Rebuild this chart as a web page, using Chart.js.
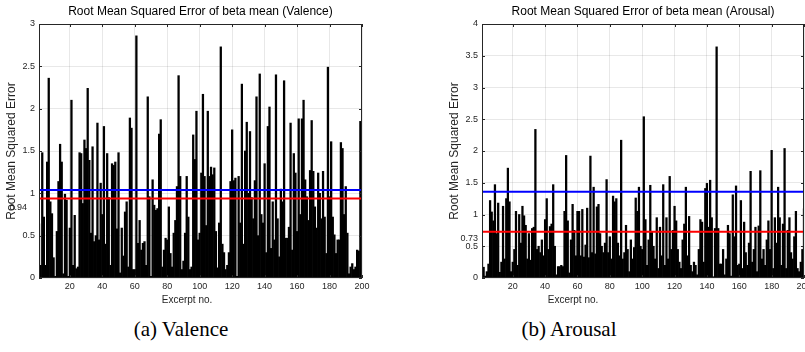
<!DOCTYPE html>
<html>
<head>
<meta charset="utf-8">
<script src="https://cdn.jsdelivr.net/npm/chart.js@4"></script>
<style>
body { margin: 0; width: 805px; height: 352px; overflow: hidden; background: #fff; position: relative; }
canvas { position: absolute; top: 0; }
#chart_valence { left: 0; }
#chart_arousal { left: 400px; }
.caption { position: absolute; top: 319px; line-height: 20px; font-family: "Liberation Serif", serif; font-size: 21px; color: #000; transform: translateX(-50%); white-space: nowrap; }
</style>
</head>
<body>
<canvas id="chart_valence" width="400" height="310"></canvas>
<canvas id="chart_arousal" width="445" height="310"></canvas>
<div class="caption" style="left:181px">(a) Valence</div>
<div class="caption" style="left:569px">(b) Arousal</div>
<script>
// values, excerpt 1..200
const VALENCE_RMSE = [
	0.64, 0.15, 1.48, 0.72, 0.15, 1.37, 2.36, 0.90, 0.76, 0.24,
	0.02, 0.55, 1.14, 1.58, 1.37, 0.05, 0.99, 0.92, 0.02, 0.59,
	2.10, 0.15, 0.74, 0.11, 0.13, 1.48, 1.47, 0.88, 1.63, 1.53,
	2.24, 1.39, 0.53, 1.55, 0.43, 0.50, 1.83, 0.45, 1.12, 0.75,
	1.79, 0.40, 1.47, 0.95, 0.15, 1.35, 1.33, 1.37, 0.58, 1.48,
	0.06, 0.59, 0.26, 0.78, 0.90, 0.13, 1.89, 1.77, 0.10, 0.10,
	2.86, 0.41, 0.68, 0.33, 0.41, 0.43, 0.15, 2.14, 0.96, 0.02,
	1.16, 0.86, 0.80, 0.82, 1.70, 1.87, 0.13, 0.33, 0.47, 0.45,
	0.84, 0.29, 0.13, 0.53, 0.68, 1.08, 2.39, 1.20, 0.10, 0.20,
	0.53, 1.20, 0.72, 0.10, 0.13, 1.69, 1.40, 1.97, 0.45, 0.53,
	1.24, 2.17, 1.20, 0.62, 1.97, 1.20, 1.31, 1.22, 1.30, 0.55,
	0.12, 0.65, 2.73, 0.40, 0.30, 0.10, 0.15, 0.30, 1.14, 1.75,
	1.15, 1.18, 0.02, 1.20, 0.65, 2.29, 0.40, 1.50, 1.84, 1.00,
	1.73, 0.95, 0.70, 1.15, 2.14, 0.50, 2.41, 0.75, 0.65, 1.35,
	0.30, 1.79, 2.02, 0.35, 0.90, 0.45, 2.40, 0.70, 0.25, 1.05,
	0.90, 2.33, 0.47, 0.47, 0.60, 1.83, 0.33, 1.47, 1.24, 0.55,
	1.88, 0.75, 1.88, 2.10, 1.16, 0.96, 0.68, 1.27, 1.86, 1.26,
	0.84, 0.59, 1.24, 1.00, 0.70, 1.26, 0.72, 0.29, 2.49, 0.96,
	1.61, 0.72, 0.51, 0.29, 0.45, 0.45, 1.60, 1.53, 0.75, 1.08,
	0.53, 0.05, 0.13, 0.17, 0.10, 0.13, 0.33, 0.32, 1.85, 0.20
];
const AROUSAL_RMSE = [
	0.50, 0.17, 0.03, 0.10, 0.22, 1.22, 1.04, 0.90, 1.47, 0.70,
	1.18, 0.09, 0.25, 1.13, 0.30, 1.25, 1.73, 1.20, 0.10, 0.25,
	0.45, 1.05, 0.20, 1.00, 0.55, 1.13, 0.98, 0.83, 0.30, 0.70,
	0.28, 0.78, 0.80, 2.34, 0.45, 0.50, 0.40, 0.60, 0.35, 0.92,
	1.25, 0.45, 0.81, 0.85, 1.47, 0.50, 0.05, 0.18, 0.18, 0.20,
	0.18, 1.05, 1.93, 0.90, 0.08, 0.60, 1.16, 0.75, 0.35, 1.05,
	1.05, 0.35, 1.08, 0.33, 0.52, 1.10, 0.32, 1.92, 0.40, 1.43,
	0.38, 1.12, 1.16, 0.70, 0.50, 0.40, 0.55, 1.55, 0.40, 0.65,
	0.30, 1.29, 1.20, 1.25, 0.55, 0.35, 2.17, 0.30, 0.40, 0.83,
	0.45, 0.10, 0.60, 0.30, 0.48, 1.26, 1.05, 1.43, 0.50, 0.45,
	2.54, 0.92, 0.20, 0.60, 1.46, 0.72, 0.50, 0.30, 0.95, 0.15,
	0.80, 0.35, 1.47, 0.20, 0.95, 0.30, 1.60, 0.45, 0.75, 1.13,
	0.90, 0.45, 0.25, 0.15, 0.60, 0.85, 1.43, 0.35, 0.97, 0.20,
	0.10, 0.25, 0.20, 0.05, 0.45, 0.92, 0.88, 0.25, 1.41, 1.49,
	0.80, 1.54, 0.95, 0.02, 0.78, 3.64, 0.78, 0.22, 0.22, 0.45,
	0.05, 0.30, 0.83, 0.70, 0.03, 1.31, 0.65, 1.45, 0.20, 0.22,
	1.22, 0.15, 0.88, 0.40, 0.20, 0.55, 1.68, 0.25, 0.45, 0.80,
	0.10, 0.82, 1.69, 0.30, 0.45, 0.20, 0.60, 0.90, 0.45, 2.01,
	0.15, 0.95, 0.55, 1.43, 0.95, 0.20, 0.85, 2.04, 0.15, 0.75,
	0.95, 0.40, 0.30, 0.65, 1.05, 0.15, 0.10, 0.25, 0.45, 1.09
];
const EXCERPT_NO = VALENCE_RMSE.map((v, i) => i + 1);
const X_TICKS = [20, 40, 60, 80, 100, 120, 140, 160, 180, 200];
const VALENCE_Y_TICKS = [0, 0.5, 1, 1.5, 2, 2.5, 3];
const AROUSAL_Y_TICKS = [0, 0.5, 1, 1.5, 2, 2.5, 3, 3.5, 4];
const VALENCE_MEAN = 0.94;
const VALENCE_UPPER = 1.04;
const AROUSAL_MEAN = 0.73;
const AROUSAL_UPPER = 1.36;

const FONT = '"Liberation Sans", Arial, sans-serif';
const AXIS_COLOR = '#262626';

// box, inner tick marks and the texts matlab puts around the axes
const frame_plugin = {
	id: 'frame',
	afterDraw(chart, args, opts) {
		let ctx = chart.ctx;
		let a = chart.chartArea;
		let xs = chart.scales.x;
		let ys = chart.scales.y;
		ctx.save();
		ctx.strokeStyle = AXIS_COLOR;
		ctx.lineWidth = 1;
		ctx.beginPath();
		xs.ticks.forEach(t => {
			let px = Math.round(xs.getPixelForValue(t.value)) + 0.5;
			ctx.moveTo(px, a.bottom); ctx.lineTo(px, a.bottom - 3);
			ctx.moveTo(px, a.top); ctx.lineTo(px, a.top + 3);
		});
		ys.ticks.forEach(t => {
			let py = Math.round(ys.getPixelForValue(t.value)) + 0.5;
			ctx.moveTo(a.left, py); ctx.lineTo(a.left + 3, py);
			ctx.moveTo(a.right, py); ctx.lineTo(a.right - 3, py);
		});
		ctx.stroke();
		ctx.strokeRect(Math.round(a.left) + 0.5, Math.round(a.top) + 0.5, Math.round(a.width) - 1, Math.round(a.height) - 1);

		ctx.fillStyle = '#000';
		ctx.textAlign = 'center';
		ctx.textBaseline = 'middle';
		ctx.font = '12px ' + FONT;
		ctx.fillText(opts.title, (a.left + a.right) / 2, 12);
		ctx.fillStyle = AXIS_COLOR;
		ctx.font = '10px ' + FONT;
		ctx.fillText('Excerpt no.', opts.xlabel_x, 300);
		ctx.save();
		ctx.translate(opts.ylabel_x, (a.top + a.bottom) / 2);
		ctx.rotate(-Math.PI / 2);
		ctx.font = '12px ' + FONT;
		ctx.fillText('Root Mean Squared Error', 0, 0);
		ctx.restore();
		ctx.font = '9px ' + FONT;
		ctx.textAlign = 'right';
		ctx.fillText(opts.mean_text, a.left - opts.mean_dx, ys.getPixelForValue(opts.mean_value) + opts.mean_dy);
		ctx.restore();
	}
};

function create_chart(canvas_id, values, mean, upper, y_ticks, options) {
	return new Chart(document.getElementById(canvas_id), {
		type: 'bar',
		data: {
			datasets: [{
				type: 'line',
				data: [{x: 1, y: mean}, {x: 200, y: mean}],
				borderColor: '#ff0000',
				borderWidth: 2,
				pointRadius: 0,
				order: 0
			}, {
				type: 'line',
				data: [{x: 1, y: upper}, {x: 200, y: upper}],
				borderColor: '#0000ff',
				borderWidth: 2,
				pointRadius: 0,
				order: 1
			}, {
				type: 'bar',
				data: values.map((v, i) => ({x: EXCERPT_NO[i], y: v})),
				backgroundColor: '#000',
				borderWidth: 0,
				barPercentage: 1,
				categoryPercentage: 1,
				order: 2
			}]
		},
		options: {
			responsive: false,
			animation: false,
			layout: {
				padding: {left: 0, right: options.pad_right, top: 24, bottom: 0}
			},
			plugins: {
				legend: {display: false},
				tooltip: {enabled: false},
				frame: {
					title: options.title,
					xlabel_x: options.xlabel_x,
					ylabel_x: options.ylabel_x,
					mean_text: String(mean),
					mean_value: mean,
					mean_dx: options.mean_dx,
					mean_dy: options.mean_dy
				}
			},
			scales: {
				x: {
					type: 'linear',
					min: 1,
					max: 200,
					offset: false,
					afterBuildTicks: s => { s.ticks = X_TICKS.map(v => ({value: v})); },
					afterFit: s => { s.height = 32; },
					grid: {color: 'rgba(0,0,0,0.09)', drawTicks: false, offset: false},
					border: {display: false},
					ticks: {padding: 3, autoSkip: false, maxRotation: 0, color: AXIS_COLOR, font: {family: FONT, size: 9},
						callback: v => String(v)}
				},
				y: {
					min: 0,
					max: y_ticks[y_ticks.length - 1],
					afterBuildTicks: s => { s.ticks = y_ticks.map(v => ({value: v})); },
					afterFit: s => { s.width = options.axis_left; },
					grid: {color: 'rgba(0,0,0,0.09)', drawTicks: false},
					border: {display: false},
					ticks: {padding: 4, color: AXIS_COLOR, font: {family: FONT, size: 9},
						callback: v => String(v)}
				}
			}
		},
		plugins: [frame_plugin]
	});
}

create_chart('chart_valence', VALENCE_RMSE, VALENCE_MEAN, VALENCE_UPPER, VALENCE_Y_TICKS, {
	title: 'Root Mean Squared Error of beta mean (Valence)',
	axis_left: 39, pad_right: 38,
	xlabel_x: 187, ylabel_x: 12,
	mean_dx: 12, mean_dy: 9
});
create_chart('chart_arousal', AROUSAL_RMSE, AROUSAL_MEAN, AROUSAL_UPPER, AROUSAL_Y_TICKS, {
	title: 'Root Mean Squared Error of beta mean (Arousal)',
	axis_left: 82, pad_right: 41,
	xlabel_x: 173, ylabel_x: 55,
	mean_dx: 4, mean_dy: 7
});
</script>
</body>
</html>
